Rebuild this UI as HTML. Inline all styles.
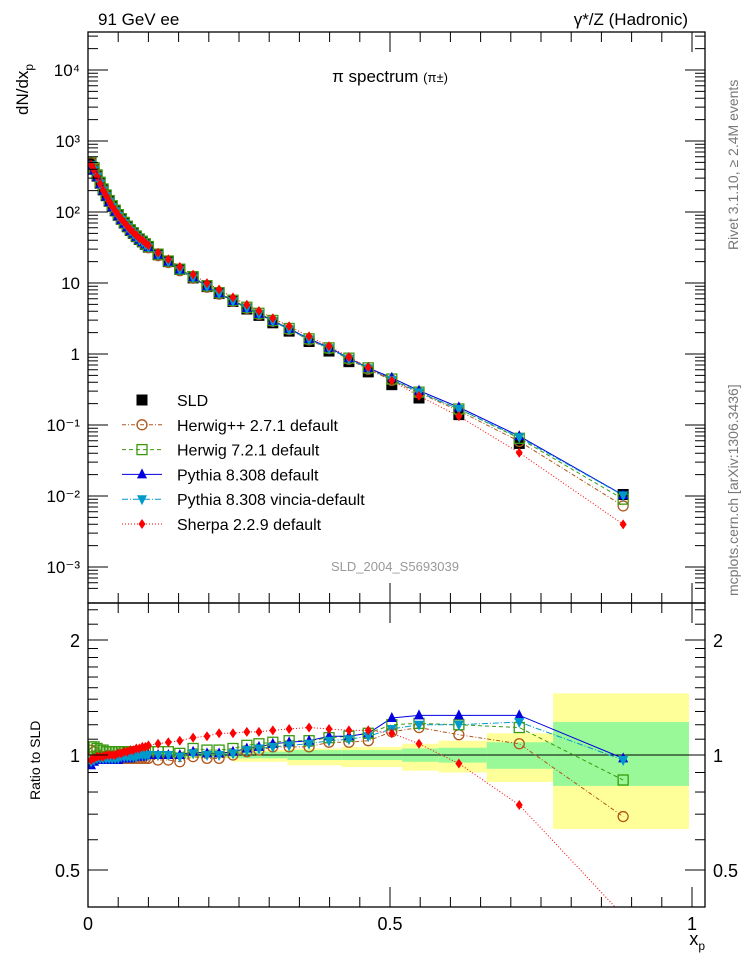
<!DOCTYPE html>
<html><head><meta charset="utf-8"><style>
body{margin:0;background:#fff;font-family:"Liberation Sans",sans-serif}
svg text{font-family:"Liberation Sans",sans-serif}
</style></head><body>
<svg id="c" width="746" height="972" xmlns="http://www.w3.org/2000/svg">
<text x="98" y="25" font-size="17">91 GeV ee</text>
<text x="688" y="25" font-size="17" text-anchor="end">γ*/Z (Hadronic)</text>
<text x="390" y="82" font-size="17" text-anchor="middle">π spectrum <tspan font-size="13">(π±)</tspan></text>
<text x="395" y="571" font-size="13" fill="#999" text-anchor="middle">SLD_2004_S5693039</text>
<text transform="translate(28,115) rotate(-90)" font-size="17">dN/dx<tspan font-size="12" dy="5">p</tspan></text>
<text transform="translate(40,800) rotate(-90)" font-size="14">Ratio to SLD</text>
<text x="705" y="945" font-size="18" text-anchor="end">x<tspan font-size="12" dy="5">p</tspan></text>
<text transform="translate(738,250) rotate(-90)" font-size="14" fill="#777">Rivet 3.1.10, ≥ 2.4M events</text>
<text transform="translate(738,596) rotate(-90)" font-size="14" fill="#777">mcplots.cern.ch [arXiv:1306.3436]</text>
<g id="bands"></g><g id="lines"></g><g id="marks"></g><g id="axes"></g><g id="legend"></g>
</svg>
<script>
const xs=[0.005,0.01,0.015,0.02,0.025,0.03,0.035,0.04,0.045,0.05,0.055,0.06,0.065,0.07,0.075,0.08,0.085,0.09,0.095,0.1,0.116,0.133,0.152,0.174,0.197,0.217,0.24,0.263,0.283,0.306,0.333,0.366,0.399,0.432,0.464,0.503,0.548,0.614,0.714,0.886];
const sld=[480,400,320,255,205,170,142,120,104,90,79,70,62,55,50,45,41,38,35,32,25,20,15.5,11.8,8.9,7.1,5.5,4.3,3.5,2.75,2.1,1.5,1.1,0.78,0.56,0.37,0.24,0.14,0.055,0.0105];
const rHerwigPP=[1.03,1.02,1.0,0.99,0.99,0.99,0.98,0.98,0.98,0.98,0.98,0.98,0.98,0.98,0.98,0.98,0.98,0.98,0.98,0.98,0.97,0.97,0.96,0.99,0.98,0.98,1.0,1.02,1.03,1.05,1.05,1.05,1.08,1.08,1.09,1.15,1.18,1.13,1.07,0.69];
const rHerwig7=[1.05,1.05,1.04,1.03,1.03,1.02,1.02,1.02,1.02,1.02,1.02,1.02,1.02,1.02,1.02,1.02,1.02,1.02,1.02,1.02,1.02,1.02,1.01,1.04,1.03,1.03,1.04,1.06,1.07,1.08,1.09,1.09,1.11,1.12,1.14,1.2,1.21,1.2,1.18,0.86];
const rPythia=[0.94,0.96,0.97,0.97,0.97,0.97,0.97,0.97,0.97,0.97,0.98,0.98,0.98,0.98,0.99,0.99,0.99,0.99,1.0,1.0,1.0,1.0,1.0,1.02,1.01,1.01,1.02,1.04,1.05,1.07,1.08,1.09,1.12,1.12,1.14,1.25,1.27,1.27,1.27,0.98];
const rVincia=[0.96,0.97,0.98,0.98,0.98,0.98,0.98,0.98,0.98,0.98,0.99,0.99,0.99,0.99,0.99,0.99,1.0,1.0,1.0,1.0,1.0,1.0,0.99,1.01,1.0,1.0,1.01,1.03,1.04,1.05,1.06,1.07,1.09,1.1,1.12,1.17,1.2,1.2,1.22,0.97];
const rSherpa=[0.97,0.98,0.99,0.99,0.99,1.0,1.0,1.0,1.0,1.01,1.01,1.02,1.02,1.03,1.03,1.04,1.04,1.05,1.05,1.06,1.07,1.08,1.09,1.11,1.12,1.14,1.14,1.15,1.15,1.16,1.17,1.18,1.17,1.16,1.16,1.14,1.07,0.95,0.74,0.38];
const bandEdges=[0,0.24,0.33,0.42,0.52,0.58,0.66,0.77,0.995];
const bandInnerUp=[1.015,1.02,1.03,1.03,1.04,1.045,1.08,1.22];
const bandInnerDn=[0.985,0.98,0.97,0.97,0.96,0.955,0.92,0.83];
const bandOuterUp=[1.02,1.03,1.04,1.05,1.07,1.09,1.14,1.45];
const bandOuterDn=[0.98,0.96,0.94,0.93,0.91,0.9,0.85,0.64];
const yTickVals=[1e-3,1e-2,1e-1,1,10,100,1e3,1e4];
const yTickLabels=["10⁻³","10⁻²","10⁻¹","1","10","10²","10³","10⁴"];
const rTickVals=[0.5,1,2];
const xTickVals=[0,0.5,1];

const L=88,R=705,T=32,MB=603,RB=907;
const X=v=>88+v*604;
const Y=v=>354-71*Math.log10(v);
const YR=v=>755-382*Math.log10(v);
const NS="http://www.w3.org/2000/svg";
function mk(p,tag,at){const e=document.createElementNS(NS,tag);for(const k in at)e.setAttribute(k,at[k]);p.appendChild(e);return e;}
const gB=document.getElementById('bands'),gL=document.getElementById('lines'),gM=document.getElementById('marks'),gA=document.getElementById('axes'),gLg=document.getElementById('legend');

for(let i=0;i<bandEdges.length-1;i++){
 const x1=X(bandEdges[i]),x2=X(bandEdges[i+1]);
 let e=mk(gB,'rect',{x:x1,y:YR(bandOuterUp[i]),width:x2-x1,height:YR(bandOuterDn[i])-YR(bandOuterUp[i]),fill:'#ffff99'});
 
 
 e=mk(gB,'rect',{x:x1,y:YR(bandInnerUp[i]),width:x2-x1,height:YR(bandInnerDn[i])-YR(bandInnerUp[i]),fill:'#99f999'});
 
 
}
let ref=mk(gB,'line',{x1:L,x2:R,y1:YR(1),y2:YR(1),stroke:'#000','stroke-width':1});



const series=[
 {name:'herwigpp',r:rHerwigPP,col:'#b0561a',dash:'4,2,1,2',m:'circle'},
 {name:'herwig7',r:rHerwig7,col:'#3a9a0e',dash:'4,3',m:'osquare'},
 {name:'pythia',r:rPythia,col:'#0000e0',dash:'',m:'tri'},
 {name:'vincia',r:rVincia,col:'#0099cc',dash:'6,2,1,2',m:'itri'},
 {name:'sherpa',r:rSherpa,col:'#ff0000',dash:'1,2',m:'diamond'}];
function marker(g,type,x,y,col){
 let e;
 if(type==='circle')e=mk(g,'circle',{cx:x,cy:y,r:5,fill:'none',stroke:col,'stroke-width':1.3});
 else if(type==='osquare')e=mk(g,'rect',{x:x-5,y:y-5,width:10,height:10,fill:'none',stroke:col,'stroke-width':1.3});
 else if(type==='tri')e=mk(g,'polygon',{points:`${x},${y-6} ${x-5},${y+4} ${x+5},${y+4}`,fill:col});
 else if(type==='itri')e=mk(g,'polygon',{points:`${x},${y+6} ${x-5},${y-4} ${x+5},${y-4}`,fill:col});
 else if(type==='diamond')e=mk(g,'polygon',{points:`${x},${y-5} ${x-3.5},${y} ${x},${y+5} ${x+3.5},${y}`,fill:col});
 else e=mk(g,'rect',{x:x-5.5,y:y-5.5,width:11,height:11,fill:col});
 return e;
}
const defs=mk(document.getElementById('c'),'defs',{});
const cp1=mk(defs,'clipPath',{id:'cm'});mk(cp1,'rect',{x:L,y:T,width:R-L,height:MB-T});
const cp2=mk(defs,'clipPath',{id:'cr'});mk(cp2,'rect',{x:L,y:MB,width:R-L,height:RB-MB});
const gMain=mk(gM,'g',{'clip-path':'url(#cm)'}),gRat=mk(gM,'g',{'clip-path':'url(#cr)'});
const gLm=mk(gL,'g',{'clip-path':'url(#cm)'}),gLr=mk(gL,'g',{'clip-path':'url(#cr)'});
xs.forEach((x,i)=>{const e=marker(gMain,'sq',X(x),Y(sld[i]),'#000');
 
 });
series.forEach(s=>{
 const pm=xs.map((x,i)=>X(x)+','+Y(sld[i]*s.r[i])).join(' ');
 const pr=xs.map((x,i)=>X(x)+','+YR(s.r[i])).join(' ');
 let e=mk(gLm,'polyline',{points:pm,fill:'none',stroke:s.col,'stroke-width':1,'stroke-dasharray':s.dash});
 
 
 e=mk(gLr,'polyline',{points:pr,fill:'none',stroke:s.col,'stroke-width':1,'stroke-dasharray':s.dash});
 
 
 xs.forEach((x,i)=>{
  let m=marker(gMain,s.m,X(x),Y(sld[i]*s.r[i]),s.col);
  
  
  m=marker(gRat,s.m,X(x),YR(s.r[i]),s.col);
  
  
 });
});
mk(gA,'rect',{x:L,y:T,width:R-L,height:MB-T,fill:'none',stroke:'#000','stroke-width':1.3});
mk(gA,'rect',{x:L,y:MB,width:R-L,height:RB-MB,fill:'none',stroke:'#000','stroke-width':1.3});
yTickVals.forEach((v,i)=>{const y=Y(v);
 mk(gA,'line',{x1:L,x2:L+20,y1:y,y2:y,stroke:'#000'});mk(gA,'line',{x1:R-20,x2:R,y1:y,y2:y,stroke:'#000'});
 const t=mk(gA,'text',{x:L-8,y:y+6,'font-size':17,'text-anchor':'end'});t.textContent=yTickLabels[i];
 
 
 for(let k=2;k<10;k++){const ym=Y(v*k);if(ym<T)continue;
  mk(gA,'line',{x1:L,x2:L+10,y1:ym,y2:ym,stroke:'#000'});mk(gA,'line',{x1:R-10,x2:R,y1:ym,y2:ym,stroke:'#000'});}
});
for(let k=5;k<10;k++){const ym=Y(1e-4*k);if(ym<MB){mk(gA,'line',{x1:L,x2:L+10,y1:ym,y2:ym,stroke:'#000'});mk(gA,'line',{x1:R-10,x2:R,y1:ym,y2:ym,stroke:'#000'});}}
rTickVals.forEach(v=>{const y=YR(v);
 mk(gA,'line',{x1:L,x2:L+20,y1:y,y2:y,stroke:'#000'});mk(gA,'line',{x1:R-20,x2:R,y1:y,y2:y,stroke:'#000'});
 let t=mk(gA,'text',{x:L-8,y:y+7,'font-size':18,'text-anchor':'end'});t.textContent=v;
 
 
 t=mk(gA,'text',{x:R+8,y:y+7,'font-size':18});t.textContent=v;
 
 
});
[0.4,0.6,0.7,0.8,0.9,1.1,1.2,1.3,1.4,1.5,1.6,1.7,1.8,1.9,2.2,2.4].forEach(v=>{const y=YR(v);if(y<MB||y>RB)return;
 mk(gA,'line',{x1:L,x2:L+10,y1:y,y2:y,stroke:'#000'});mk(gA,'line',{x1:R-10,x2:R,y1:y,y2:y,stroke:'#000'});});
for(let k=0;k<=20;k++){const v=k*0.05,x=X(v);if(x>R)continue;const len=k%10===0?20:10;
 mk(gA,'line',{x1:x,x2:x,y1:RB,y2:RB-len,stroke:'#000'});mk(gA,'line',{x1:x,x2:x,y1:MB,y2:MB-len,stroke:'#000'});
 mk(gA,'line',{x1:x,x2:x,y1:T,y2:T+len,stroke:'#000'});mk(gA,'line',{x1:x,x2:x,y1:MB,y2:MB+len,stroke:'#000'});}
xTickVals.forEach(v=>{const t=mk(gA,'text',{x:X(v),y:RB+23,'font-size':18,'text-anchor':'middle'});t.textContent=v;
 
 });
const leg=[['SLD','sq','#000',''],['Herwig++ 2.7.1 default','circle','#b0561a','4,2,1,2'],['Herwig 7.2.1 default','osquare','#3a9a0e','4,3'],['Pythia 8.308 default','tri','#0000e0',''],['Pythia 8.308 vincia-default','itri','#0099cc','6,2,1,2'],['Sherpa 2.2.9 default','diamond','#ff0000','1,2']];
leg.forEach((l,i)=>{const y=400+i*24.8;
 if(i>0){mk(gLg,'line',{x1:122,x2:162,y1:y,y2:y,stroke:l[2],'stroke-dasharray':l[3]});}
 marker(gLg,l[1],142,y,l[2]);
 const t=mk(gLg,'text',{x:177,y:y+6,'font-size':16});t.textContent=l[0];
 
 
});
</script>
</body></html>
